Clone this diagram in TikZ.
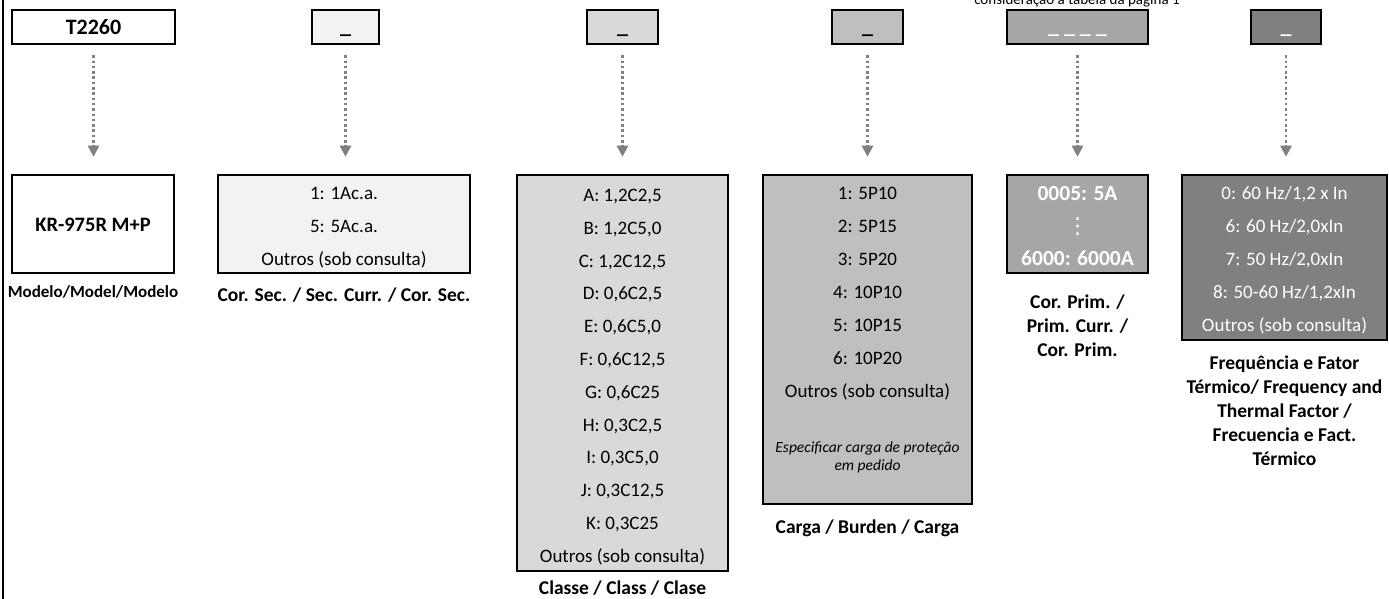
\documentclass[tikz,border=0pt]{standalone}
\usepackage{fontspec}
\setmainfont{Carlito}
\newfontfamily\dejavu{DejaVu Sans}
\usetikzlibrary{arrows.meta}
\definecolor{ga}{HTML}{F2F2F2}
\definecolor{gb}{HTML}{D9D9D9}
\definecolor{gc}{HTML}{BFBFBF}
\definecolor{gd}{HTML}{A6A6A6}
\definecolor{ge}{HTML}{808080}
\definecolor{arrgray}{HTML}{808080}
\begin{document}
\begin{tikzpicture}[x=1pt,y=-1pt,
  box/.style={draw=black, line width=2.5pt, inner sep=0pt},
  txt/.style={font=\fontsize{19}{22}\selectfont, inner sep=0pt, anchor=base},
  itx/.style={font=\itshape\fontsize{15.5}{18}\selectfont, inner sep=0pt, anchor=base},
  lbl/.style={font=\bfseries\fontsize{19.5}{22}\selectfont, inner sep=0pt, anchor=base},
  uscore/.style={font=\bfseries\fontsize{22}{24}\selectfont, inner sep=0pt, anchor=base},
  arr/.style={draw=arrgray, line width=2.5pt, dash pattern=on 2.5pt off 2.8pt,
    -{Triangle[width=11pt,length=11pt]}, shorten <=10pt, shorten >=17pt}
]
\useasboundingbox (0,0) rectangle (1389,599);
% left rule
\coordinate (lt) at (3,0);
\coordinate (lb) at (3,599);
\draw[line width=2pt] (lt) -- (lb);
% note at top (cut by the page edge, as in the reference)
\node[font=\fontsize{15}{18}\selectfont, inner sep=0pt, anchor=base] (note) at (1077,4.5) {consideração a tabela da página 1};
% top boxes
\node[box, fill=white, minimum width=163pt, minimum height=34pt] (t1) at (93.5,27) {};
\node[box, fill=ga, minimum width=67pt, minimum height=34pt] (t2) at (345.5,27) {};
\node[box, fill=gb, minimum width=71pt, minimum height=34pt] (t3) at (622.5,27) {};
\node[box, fill=gc, minimum width=71pt, minimum height=34pt] (t4) at (867.5,27) {};
\node[box, fill=gd, minimum width=141pt, minimum height=34pt] (t5) at (1077.5,27) {};
\node[box, fill=ge, minimum width=70pt, minimum height=34pt] (t6) at (1286,27) {};
\node[font=\bfseries\fontsize{22}{24}\selectfont, inner sep=0pt, anchor=base] (t1t) at (93.5,34.5) {T2260};
\node[uscore] (t2t) at (345.5,34) {\_};
\node[uscore] (t3t) at (622.5,34) {\_};
\node[uscore] (t4t) at (867.5,34) {\_};
\node[uscore, text=white] (t5t) at (1077.5,34) {\_ \_ \_ \_};
\node[uscore, text=white] (t6t) at (1286,34) {\_};
% bottom boxes
\node[box, fill=white, minimum width=162pt, minimum height=98pt] (b1) at (93,224) {};
\node[box, fill=ga, minimum width=252pt, minimum height=98pt] (b2) at (344,224) {};
\node[box, fill=gb, minimum width=211pt, minimum height=396pt] (b3) at (622.5,373) {};
\node[box, fill=gc, minimum width=209pt, minimum height=329pt] (b4) at (867.5,339.5) {};
\node[box, fill=gd, minimum width=141pt, minimum height=98pt] (b5) at (1077.5,224) {};
\node[box, fill=ge, minimum width=205pt, minimum height=165pt] (b6) at (1284.5,257.5) {};
% arrows
\foreach \k in {1,...,6}
  \draw[arr] (t\k.south) -- (t\k.south |- b\k.north);
% box texts
\node[font=\bfseries\fontsize{20.5}{24}\selectfont, inner sep=0pt, anchor=base] (b1t) at (93,231) {KR-975R M+P};
\foreach \t [count=\i] in {{1: 1Ac.a.},{5: 5Ac.a.},{Outros (sob consulta)}}
  \node[txt] (b2l\i) at (344,199+33*\i-33) {\t};
\foreach \t [count=\i] in {{A: 1,2C2,5},{B: 1,2C5,0},{C: 1,2C12,5},{D: 0,6C2,5},{E: 0,6C5,0},{F: 0,6C12,5},{G: 0,6C25},{H: 0,3C2,5},{I: 0,3C5,0},{J: 0,3C12,5},{K: 0,3C25},{Outros (sob consulta)}}
  \node[txt] (b3l\i) at (622.5,201.5+32.8*\i-32.8) {\t};
\foreach \t [count=\i] in {{1: 5P10},{2: 5P15},{3: 5P20},{4: 10P10},{5: 10P15},{6: 10P20},{Outros (sob consulta)}}
  \node[txt] (b4l\i) at (867.5,199+33*\i-33) {\t};
\node[itx] (b4i1) at (867.5,452) {Especificar carga de proteção};
\node[itx] (b4i2) at (867.5,470) {em pedido};
\node[font=\bfseries\fontsize{21.5}{24}\selectfont, text=white, inner sep=0pt, anchor=base] (b5l1) at (1077.5,200) {0005: 5A};
\node[font=\dejavu\fontsize{22}{24}\selectfont, text=white, inner sep=0pt, anchor=base] (b5l2) at (1077.5,233) {⋮};
\node[font=\bfseries\fontsize{21.5}{24}\selectfont, text=white, inner sep=0pt, anchor=base] (b5l3) at (1077.5,265.5) {6000: 6000A};
\foreach \t [count=\i] in {{0: 60 Hz/1,2 x In},{6: 60 Hz/2,0xIn},{7: 50 Hz/2,0xIn},{8: 50-60 Hz/1,2xIn},{Outros (sob consulta)}}
  \node[txt, text=white] (b6l\i) at (1284.5,199+33*\i-33) {\t};
% labels
\node[font=\bfseries\fontsize{17}{20}\selectfont, inner sep=0pt, anchor=base] (L1) at (93,297.5) {Modelo/Model/Modelo};
\node[lbl] (L2) at (344,301) {Cor. Sec. / Sec. Curr. / Cor. Sec.};
\node[lbl] (L3) at (622.5,594) {Classe / Class / Clase};
\node[lbl] (L4) at (867.5,533) {Carga / Burden / Carga};
\foreach \t [count=\i] in {{Cor. Prim. /},{Prim. Curr. /},{Cor. Prim.}}
  \node[lbl] (L5\i) at (1077.5,308+24*\i-24) {\t};
\foreach \t [count=\i] in {{Frequência e Fator},{Térmico/ Frequency and},{Thermal Factor /},{Frecuencia e Fact.},{Térmico}}
  \node[lbl] (L6\i) at (1284.5,369+24*\i-24) {\t};
\end{tikzpicture}
\end{document}
